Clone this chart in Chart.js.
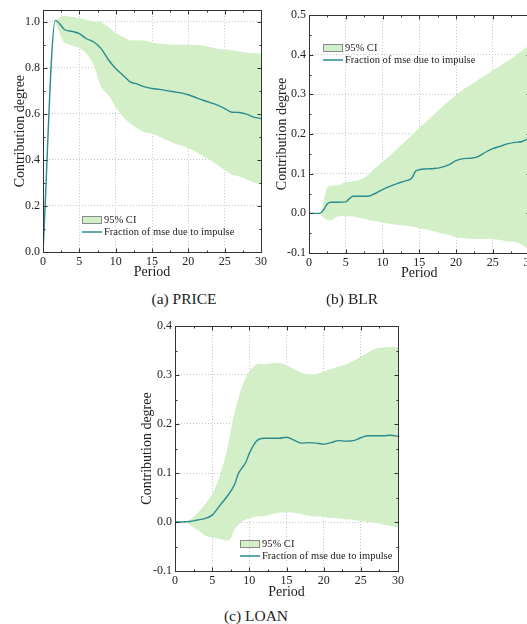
<!DOCTYPE html>
<html>
<head>
<meta charset="utf-8">
<script src="https://cdn.jsdelivr.net/npm/chart.js@4.4.1/dist/chart.umd.min.js"></script>
<style>
  body { margin: 0; background: #fff; width: 527px; height: 624px; overflow: hidden; position: relative; }
  canvas { position: absolute; }
  .cap { position: absolute; font-family: "Liberation Serif", "Times New Roman", serif; font-size: 15.5px; color: #222; white-space: nowrap; transform: translateX(-50%); }
</style>
</head>
<body>
<canvas id="chartA" width="270" height="285" style="left:0;top:0"></canvas>
<canvas id="chartB" width="275" height="285" style="left:265px;top:0"></canvas>
<canvas id="chartC" width="280" height="290" style="left:130px;top:315px"></canvas>
<div class="cap" style="left:184px;top:290px">(a) PRICE</div>
<div class="cap" style="left:352px;top:290px">(b) BLR</div>
<div class="cap" style="left:256px;top:607px">(c) LOAN</div>
<script>
// (a) PRICE
const lineXA = [0, 1.7, 3, 4, 5, 6, 7, 8, 9, 10, 11, 12, 13, 14, 15, 16, 17, 18, 19, 20, 21, 22, 23, 24, 25, 26, 27, 28, 29, 30];
const lineA = [0, 1.006, 0.965, 0.958, 0.948, 0.926, 0.912, 0.883, 0.835, 0.797, 0.768, 0.739, 0.729, 0.717, 0.71, 0.706, 0.701, 0.696, 0.691, 0.683, 0.671, 0.659, 0.649, 0.638, 0.623, 0.607, 0.606, 0.599, 0.586, 0.579];
const ciXA = [1.7, 2.5, 3, 4, 5, 6, 7, 8, 9, 10, 11, 12, 13, 14, 15, 16, 17, 18, 19, 20, 21, 22, 23, 24, 25, 26, 27, 28, 29, 30];
const ciUpperA = [1.005, 1.022, 1.027, 1.02, 1.016, 1.008, 1.0, 0.998, 0.977, 0.951, 0.934, 0.92, 0.919, 0.918, 0.909, 0.905, 0.902, 0.901, 0.9, 0.9, 0.899, 0.897, 0.89, 0.883, 0.879, 0.876, 0.871, 0.866, 0.863, 0.861];
const ciLowerA = [1.0, 0.934, 0.908, 0.897, 0.886, 0.861, 0.811, 0.717, 0.681, 0.631, 0.587, 0.558, 0.537, 0.519, 0.515, 0.501, 0.486, 0.472, 0.462, 0.45, 0.436, 0.417, 0.4, 0.378, 0.356, 0.335, 0.328, 0.316, 0.303, 0.294];

// (b) BLR
const lineXB = [0, 1, 1.5, 2, 2.5, 3, 4, 5, 5.5, 6, 7, 8, 9, 10, 11, 12, 13, 14, 14.5, 15, 16, 17, 18, 19, 20, 21, 22, 23, 24, 25, 26, 27, 28, 29, 30];
const lineB = [0, 0, 0, 0.009, 0.024, 0.028, 0.028, 0.029, 0.037, 0.043, 0.043, 0.043, 0.05, 0.06, 0.068, 0.075, 0.081, 0.089, 0.106, 0.11, 0.112, 0.113, 0.116, 0.122, 0.133, 0.138, 0.139, 0.143, 0.154, 0.163, 0.169, 0.175, 0.179, 0.181, 0.191];
const ciXB = [0, 1.5, 2, 2.5, 3, 3.5, 4, 5, 6, 7, 8, 9, 10, 11, 12, 13, 14, 15, 16, 17, 18, 19, 20, 21, 22, 23, 24, 25, 26, 27, 28, 29, 30];
const ciUpperB = [0, 0, 0.034, 0.066, 0.07, 0.07, 0.07, 0.079, 0.081, 0.085, 0.096, 0.114, 0.13, 0.146, 0.163, 0.18, 0.197, 0.215, 0.232, 0.249, 0.266, 0.283, 0.298, 0.312, 0.324, 0.336, 0.348, 0.36, 0.372, 0.384, 0.396, 0.41, 0.424];
const ciLowerB = [0, 0, -0.012, -0.016, -0.018, -0.012, -0.008, -0.006, -0.008, -0.012, -0.016, -0.02, -0.023, -0.026, -0.029, -0.031, -0.033, -0.037, -0.041, -0.045, -0.05, -0.054, -0.06, -0.062, -0.064, -0.065, -0.065, -0.066, -0.067, -0.071, -0.072, -0.079, -0.093];

// (c) LOAN
const lineXC = [0, 1, 2, 3, 4, 5, 6, 7, 8, 8.5, 9, 9.5, 10, 11, 12, 13, 14, 15, 16, 17, 18, 19, 20, 21, 22, 23, 24, 25, 26, 27, 28, 29, 30];
const lineC = [0, 0, 0.001, 0.004, 0.007, 0.014, 0.033, 0.052, 0.076, 0.098, 0.11, 0.121, 0.14, 0.166, 0.171, 0.171, 0.171, 0.173, 0.167, 0.161, 0.162, 0.161, 0.159, 0.162, 0.166, 0.165, 0.166, 0.172, 0.176, 0.176, 0.176, 0.177, 0.175];
const ciXC = [0, 1, 1.5, 2, 3, 4, 5, 6, 7, 7.5, 8, 9, 10, 11, 12, 13, 14, 15, 16, 17, 18, 19, 20, 21, 22, 23, 24, 25, 26, 27, 28, 29, 30];
const ciUpperC = [0, 0, 0.001, 0.004, 0.018, 0.035, 0.057, 0.093, 0.147, 0.185, 0.222, 0.276, 0.307, 0.322, 0.322, 0.324, 0.325, 0.32, 0.312, 0.305, 0.301, 0.302, 0.307, 0.312, 0.317, 0.322, 0.329, 0.337, 0.346, 0.354, 0.356, 0.357, 0.357];
const ciLowerC = [0, 0, 0, -0.006, -0.016, -0.027, -0.032, -0.034, -0.038, -0.033, -0.016, 0.001, 0.007, 0.011, 0.012, 0.016, 0.019, 0.02, 0.019, 0.016, 0.013, 0.011, 0.01, 0.008, 0.007, 0.005, 0.004, 0.002, 0, -0.002, -0.005, -0.008, -0.011];

const ciLabel = '95% CI';
const lineLabel = 'Fraction of mse due to impulse';
const bandColor = '#d3efc8';
const lineColor = '#2a8b90';

Chart.defaults.font.family = '"Liberation Serif", "Times New Roman", serif';
Chart.defaults.color = '#222';

function pts(xs, ys) {
  return xs.map((x, i) => ({x: x, y: ys[i]}));
}

// frame, inward tick marks and the little legend
const framePlugin = {
  id: 'frame',
  afterDatasetsDraw(chart, args, opts) {
    const ctx = chart.ctx;
    const a = chart.chartArea;
    const xs = chart.scales.x, ys = chart.scales.y;
    const L = Math.round(a.left) + 0.5, R = Math.round(a.right) + 0.5;
    const T = Math.round(a.top) + 0.5, B = Math.round(a.bottom) + 0.5;
    ctx.save();
    ctx.strokeStyle = '#333';
    ctx.lineWidth = 1;
    ctx.strokeRect(L, T, R - L, B - T);
    ctx.beginPath();
    for (let v = xs.min; v <= xs.max + 1e-9; v += 2.5) {
      const p = Math.round(xs.getPixelForValue(v)) + 0.5;
      const len = Math.abs(v % 5) < 1e-6 ? 4 : 2;
      ctx.moveTo(p, B); ctx.lineTo(p, B - len);
      ctx.moveTo(p, T); ctx.lineTo(p, T + len);
    }
    const half = opts.yStep / 2;
    for (let k = 0; ys.min + k * half <= ys.max + 1e-9; k++) {
      const v = ys.min + k * half;
      const p = Math.round(ys.getPixelForValue(v)) + 0.5;
      const len = k % 2 === 0 ? 4 : 2;
      ctx.moveTo(L, p); ctx.lineTo(L + len, p);
      ctx.moveTo(R, p); ctx.lineTo(R - len, p);
    }
    ctx.stroke();

    // legend
    const lx = opts.legendX, ly = opts.legendY;
    ctx.fillStyle = bandColor;
    ctx.fillRect(lx, ly, 19, 7);
    ctx.strokeStyle = '#8a8a8a';
    ctx.strokeRect(lx + 0.5, ly + 0.5, 19, 7);
    ctx.strokeStyle = lineColor;
    ctx.lineWidth = 1.5;
    ctx.beginPath();
    ctx.moveTo(lx, ly + 16); ctx.lineTo(lx + 20, ly + 16);
    ctx.stroke();
    ctx.fillStyle = '#222';
    ctx.font = '10.5px "Liberation Serif", "Times New Roman", serif';
    ctx.textBaseline = 'middle';
    ctx.fillText(ciLabel, lx + 22, ly + 4);
    ctx.fillText(lineLabel, lx + 22, ly + 16);
    ctx.restore();
  }
};

function makeChart(id, lx, ly, cx, cu, cl, box) {
  const canvas = document.getElementById(id);
  return new Chart(canvas, {
    type: 'line',
    data: {
      datasets: [
        { label: ciLabel, data: pts(cx, cu), borderWidth: 0, pointRadius: 0, backgroundColor: bandColor, fill: '+1', tension: 0.3, order: 2 },
        { label: ciLabel + ' lower', data: pts(cx, cl), borderWidth: 0, pointRadius: 0, backgroundColor: bandColor, fill: false, tension: 0.3, order: 3 },
        { label: lineLabel, data: pts(lx, ly), borderColor: lineColor, borderWidth: 1.4, pointRadius: 0, fill: false, cubicInterpolationMode: 'monotone', order: 0 }
      ]
    },
    options: {
      responsive: false,
      animation: false,
      layout: { padding: { left: 0, top: box.top, right: canvas.width - box.right, bottom: 0 } },
      plugins: {
        legend: { display: false },
        tooltip: { enabled: false },
        frame: { yStep: box.yStep, legendX: box.legendX, legendY: box.legendY }
      },
      scales: {
        x: {
          type: 'linear', min: 0, max: 30,
          ticks: { stepSize: 5, padding: 3, font: { size: 12 }, maxRotation: 0 },
          grid: { color: '#c4c4c4', drawTicks: false },
          border: { display: false, dash: [1, 2] },
          title: { display: true, text: 'Period', font: { size: 14 }, padding: { top: 0, bottom: box.xTitlePad } },
          afterFit: s => { s.height = canvas.height - box.bottom; }
        },
        y: {
          min: box.yMin, max: box.yMax,
          ticks: { stepSize: box.yStep, padding: 3, font: { size: 12 }, callback: v => (Math.abs(v) < 1e-9 ? 0 : v).toFixed(1) },
          grid: { color: '#c4c4c4', drawTicks: false },
          border: { display: false, dash: [1, 2] },
          title: { display: true, text: 'Contribution degree', font: { size: 14 }, padding: { top: box.yTitlePad, bottom: 0 } },
          afterBuildTicks: s => {
            const ticks = [];
            const n = Math.floor((box.yMax - box.yMin) / box.yStep + 1e-6);
            for (let k = 0; k <= n; k++) ticks.push({ value: Math.round((box.yMin + k * box.yStep) * 1000) / 1000 });
            s.ticks = ticks;
          },
          afterFit: s => { s.width = box.left; }
        }
      }
    },
    plugins: [framePlugin]
  });
}

makeChart('chartA', lineXA, lineA, ciXA, ciUpperA, ciLowerA,
  { left: 43, top: 9, right: 263, bottom: 252, yMin: 0, yMax: 1.05, yStep: 0.2, xTitlePad: 4, yTitlePad: 12, legendX: 82, legendY: 216 });
makeChart('chartB', lineXB, lineB, ciXB, ciUpperB, ciLowerB,
  { left: 44, top: 15, right: 264.5, bottom: 253, yMin: -0.1, yMax: 0.5, yStep: 0.1, xTitlePad: 3, yTitlePad: 9, legendX: 58, legendY: 44 });
makeChart('chartC', lineXC, lineC, ciXC, ciUpperC, ciLowerC,
  { left: 45, top: 11, right: 268, bottom: 256, yMin: -0.1, yMax: 0.4, yStep: 0.1, xTitlePad: 4, yTitlePad: 9, legendX: 110, legendY: 225 });
</script>
</body>
</html>
